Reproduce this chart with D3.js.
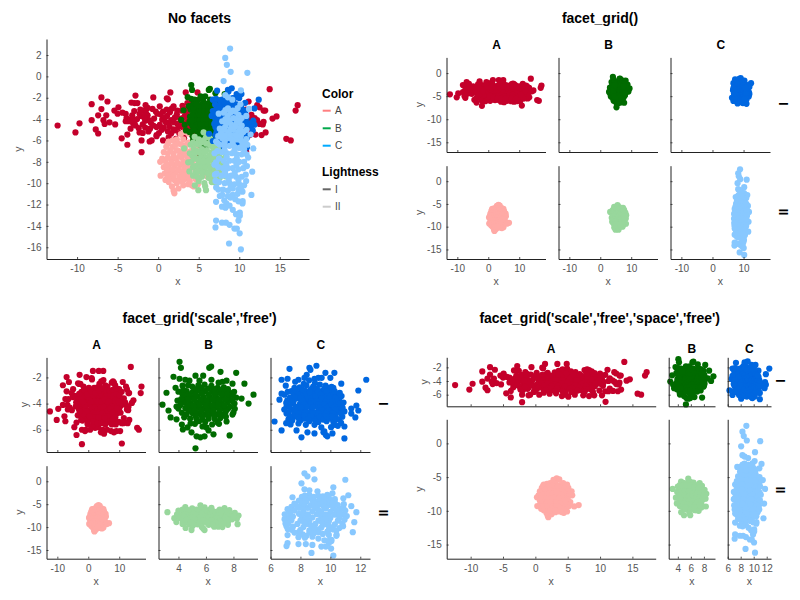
<!DOCTYPE html>
<html><head><meta charset="utf-8">
<script src="https://cdnjs.cloudflare.com/ajax/libs/d3/7.8.5/d3.min.js"></script>
<style>html,body{margin:0;padding:0;background:#fff}svg{display:block;font-family:"Liberation Sans",Arial,sans-serif}</style>
</head><body><svg id="c" width="800" height="600"></svg>
<script>
// data: [x, y]
const pointsAI = [
[-12.4,-4.6],[-10.2,-5.25],[-9.7,-4.4],[-8.2,-2.6],[-8.2,-4.1],[-7,-1.97],[-7,-3.06],[-6.25,-2.35],[-7.4,-3.65],[-6.4,-3.65],[-7.7,-4.97],[-7.4,-5.35],[-6.75,-4.1],[-6.6,-4.45],[-6,-4.3],[-5.3,-4.5],[-5.4,-3.2],[-4.9,-2.9],[-5,-3.5],[-4.5,-5.8],[-3.8,-5.45],[-3.8,-6.4],[-4.4,-3.4],[-4,-3.5],[-3.3,-2.45],[-2.8,-1.8],[-2.9,-2.5],[-2.55,-2.5],[-3.2,-3.65],[-4,-4.2],[-3.65,-4.2],[-3.4,-4.9],[-2.05,-7.1],[-2.05,-6],[-2.2,-3.1],[-1.55,-2.7],[-1.05,-6.1],[-0.8,-6],[-0.6,-1.97],[1.07,-2.05],[1.2,-2.15],[1.5,-1.5],[3.4,-1.5],[4.85,-1.5],[-0.2,-5.5],[-0.2,-5.6],
[13.75,-1.2],[17.2,-2.7],[16.95,-3.2],[14.6,-3.75],[14.1,-3.95],[13.2,-3.2],[13,-3.2],[13.25,-5.25],[12.75,-5.5],[15.8,-5.85],[16.35,-6],[12,-5.45],[10.85,-7.05],[11.15,-2.35],[12.5,-2.9],[12.2,-2.7],[12.2,-4.1],[13,-4.25],[12.5,-4.45],[12.9,-4.5],[11.3,-4],[10.8,-5.5],[11.5,-5.1],[10.3,-6.1],[9.1,-6.1],[8.3,-6.2],[7.4,-6.1],[6.1,-6],[5.1,-6.3],[4.1,-6.2],[3.2,-5.8],[2.2,-5.85],[1.3,-5.7],[0.6,-6],[4.7,-6],
[-1.8,-3.2],[-0.7,-3.05],[0.6,-3.3],[1.7,-3],[2.9,-3.2],[4.1,-2.9],[5.2,-3.25],[6.3,-3.1],[7.4,-3.3],[8.5,-3],[9.6,-3.3],[10.8,-3.1],[0.2,-2.8],[1.9,-2.8],[3,-2.75],[3.6,-2.5],[4.2,-2.3],[4.9,-2.2],[5.5,-2.6],[6.2,-2.7],[7.6,-2.4],[8,-2.3],[8.3,-2.4],[8.7,-2.6],[10,-2.9],
[-3.2,-3.9],[-1.3,-3.65],[-0.1,-3.5],[1.1,-3.7],[2.3,-3.55],[3.3,-3.7],[4.6,-3.6],[5.7,-3.75],[6.8,-3.55],[7.9,-3.7],[9,-3.6],[10.3,-3.75],[11.5,-3.6],
[-2.6,-4],[-1.6,-4.15],[-0.5,-3.95],[0.5,-4.05],[1.6,-4.1],[2.7,-3.95],[3.8,-4.1],[4.9,-4],[6,-4.15],[7.2,-3.95],[8.3,-4.1],[9.4,-4],[10.6,-4.15],[11.9,-3.9],
[-3.1,-4.4],[-1.9,-4.5],[-0.9,-4.35],[0.2,-4.55],[1.3,-4.4],[2.4,-4.45],[3.5,-4.35],[4.4,-4.55],[5.5,-4.4],[6.6,-4.5],[7.7,-4.35],[8.8,-4.5],[10,-4.4],
[-2.4,-4.85],[-1,-4.9],[0.7,-4.8],[1.9,-4.95],[3,-4.75],[4,-4.9],[5.1,-4.8],[6.2,-4.95],[7.3,-4.8],[8.2,-4.9],[9.2,-4.75],[-1.9,-5.3],
[-1.2,-5.15],[0.1,-5.3],[1.2,-5.15],[2.6,-5.3],[3.7,-5.2],[4.7,-5.35],[6,-5.2],[7.1,-5.3],[8.6,-5.25],[9.9,-5.4],[11.3,-5.5],[-2.3,-5.25],[-3.9,-3.9],[-2.1,-3.7],[-2.9,-4.2],[-3.5,-4.1],[-1.3,-2.95],
[0.3,-3.55],[1.45,-3.35],[2.05,-3.85],[3.55,-3.35],[4.35,-3.3],[5.6,-3.45],[6.05,-3.3],[7.05,-3.25],[8.05,-3.4],[9.05,-3.25],[10.15,-3.4],[0.85,-3.85],[2.85,-4.15],[3.15,-3.85],[4.2,-3.85],[5.35,-3.7],[6.5,-3.85],[7.65,-4.2],[8.75,-3.8],[9.85,-3.85],[0.95,-4.3],[1.95,-4.3],[3.05,-4.45],[4.05,-4.3],[5,-4.25],[6.15,-4.6],[7.15,-4.4],[8.25,-4.6],[9.35,-4.35],[10.45,-4.7],[1.4,-4.7],[2.5,-4.75],[3.5,-4.7],[4.55,-4.75],[5.6,-5],[6.75,-4.95],[7.85,-4.7],[8.75,-5.05],[-0.2,-4.75],[-0.6,-4.6],[-1.5,-3.45],[-2.3,-3.5],[-0.3,-3.3],[2.05,-5.05],[3.35,-5.05],[5.35,-5.1],[6.55,-5.4],[7.9,-5.2],[-2.95,-3.25],[-1.15,-4.1],[1.05,-3.1],[2.35,-3.2],[3.65,-3],[4.75,-2.85],[5.85,-3],[6.85,-3],[7.9,-2.95],[9.15,-2.85],[0.45,-5],[1.6,-5.35],[3.05,-5.5],[4.2,-5.5],[5.55,-5.6],[7.6,-5.6],[8.9,-5.6],[-1.6,-4.8],[-2.8,-4.6],[-1.7,-3.9]
];
const pointsBI = [
[4.08,-0.81],[4.18,-1.27],[6.38,-1.17],[6.24,-1.27],[7.06,-1.57],[8.2,-1.65],[3.64,-1.95],[4.08,-2.1],[5.24,-1.87],[5.8,-1.87],[8.8,-2.48],[9.46,-3.32],[9.1,-4],[3.13,-3.17],[2.84,-4.08],[3.28,-4.53],[3.43,-5.06],[3.86,-5.2],[3.93,-3.77],[3.86,-4.23],[4,-4.38],[4.25,-5.6],[4.32,-5.98],[4.66,-5.82],[4.95,-6.2],[5.32,-6.5],[5.6,-6.58],[5.9,-6.5],[6.55,-6.35],[7.72,-6.43],[5.24,-7.42],[6.19,-6.05],[5.75,-5.75],[6.04,-5.82],[8,-4.68],[7.93,-4.84],[7.5,-5.37],[8.08,-4],[8.59,-3.62],[8.2,-3.55],[7.93,-2.48],[7.5,-2.25],[7.2,-2.33],[6.92,-2.4],[6.4,-2.18],[5.53,-2.25],[4.8,-2.25],[4.5,-2.18],[4.3,-2.63],[3.79,-2.79],[4,-3.09],[4.88,-5.52],[6.84,-5.44],
[5,-2.7],[5.45,-2.6],[5.9,-2.55],[6.4,-2.65],[6.85,-2.8],[7.3,-2.75],[4.6,-3.05],[5.05,-3.1],[5.5,-3],[5.95,-3.05],[6.45,-3.1],[6.9,-3.15],[7.35,-3.1],[7.8,-3.2],[4.5,-3.5],[4.95,-3.5],[5.4,-3.45],[5.85,-3.5],[6.3,-3.55],[6.75,-3.5],[7.2,-3.5],[7.65,-3.55],[4.4,-3.9],[4.85,-3.95],[5.3,-3.9],[5.75,-3.9],[6.2,-3.95],[6.65,-3.9],[7.1,-3.95],[7.55,-3.9],[4.5,-4.35],[4.95,-4.35],[5.4,-4.3],[5.85,-4.35],[6.3,-4.35],[6.75,-4.3],[7.2,-4.35],[7.6,-4.4],[4.6,-4.8],[5.05,-4.75],[5.5,-4.75],[5.95,-4.8],[6.4,-4.75],[6.85,-4.8],[7.3,-4.8],[4.85,-5.15],[5.3,-5.15],[5.75,-5.2],[6.2,-5.15],[6.65,-5.2],[7.05,-5.1],[5.2,-5.55],[6.45,-5.6],
[5.2,-2.9],[5.7,-2.8],[6.15,-2.85],[6.6,-2.9],[7.1,-2.95],[4.75,-3.3],[5.25,-3.3],[5.7,-3.25],[6.2,-3.3],[6.65,-3.3],[7.15,-3.3],[7.55,-3.3],[4.7,-3.7],[5.15,-3.7],[5.6,-3.7],[6.05,-3.75],[6.5,-3.7],[6.95,-3.7],[7.4,-3.7],[4.65,-4.15],[5.1,-4.15],[5.55,-4.1],[6,-4.15],[6.45,-4.15],[6.9,-4.1],[7.35,-4.15],[4.75,-4.55],[5.2,-4.55],[5.65,-4.55],[6.1,-4.55],[6.55,-4.55],[7,-4.55],[7.45,-4.6],[5.25,-4.95],[5.7,-4.95],[6.15,-4.95],[6.6,-4.95],[7.1,-4.95],[5.5,-5.35],[5.95,-5.4],[4.3,-3.3],[4.25,-4.7],[7.9,-3.8],[7.75,-4.25],[4.35,-2.95],[4.2,-3.65],[4.15,-4.1],[4.42,-5.05],[7.95,-3.35],[8.05,-3.1],[7.6,-2.9],[7.45,-5],[6.95,-5.55],[4.7,-2.6],[8.1,-4.4]
];
const pointsCI = [
[9.07,-1.11],[8.6,-1.27],[8.67,-1.42],[7.27,-1.34],[9.67,-1.65],[10.27,-1.65],[10,-2.03],[12.4,-2.18],[6.74,-2.18],[7.14,-2.1],[10.73,-2.48],[11.87,-3],[6.6,-3.7],[6.74,-3.24],[6.94,-3.32],[11.74,-4.15],[11.4,-4.38],[11.87,-4.53],[11.4,-4.76],[11.67,-5.06],[10.94,-4.6],[6.27,-5.37],[6.74,-6.05],[7.34,-5.6],[7.74,-6.05],[8.07,-6.58],[8.47,-6.2],[8.94,-6.28],[9.54,-6.2],[9.8,-6.5],[10.14,-6.28],[9.7,-6.4],[10.94,-5.75],[10.94,-6.66],[9.4,-5.82],[9.6,-6.13],[7.07,-4.76],[7.07,-4.25],[7.2,-5.2],[7.87,-5.52],[8.36,-5.62],[8.94,-5.62],[8.42,-1.8],[8.27,-2.03],[7.87,-2.18],[7.65,-2.33],[8.94,-2.1],[9.2,-2.03],[9.42,-2.03],[7.02,-2.63],[7.6,-2.79],[9.87,-2.79],[10.2,-2.79],[10.53,-3.24],
[7.4,-3.05],[7.95,-2.75],[8.4,-2.6],[8.85,-2.7],[9.3,-2.55],[8,-3.15],[8.45,-3.1],[8.9,-3.15],[9.4,-3.05],[9.85,-3.2],[10.3,-3.3],[7.3,-3.55],[7.8,-3.6],[8.25,-3.55],[8.7,-3.6],[9.2,-3.55],[9.65,-3.6],[10.1,-3.65],[10.6,-3.7],[7.5,-4],[7.95,-4.05],[8.45,-4],[8.9,-4],[9.35,-4.05],[9.85,-4],[10.3,-4.05],[10.75,-4.1],[7.4,-4.45],[7.85,-4.5],[8.3,-4.45],[8.75,-4.5],[9.2,-4.45],[9.7,-4.5],[10.15,-4.45],[10.6,-4.5],[7.6,-4.95],[8.05,-4.9],[8.55,-4.95],[9,-4.9],[9.45,-5],[9.9,-4.9],[10.35,-4.95],[10.8,-5],[8,-5.3],[8.6,-5.35],[9.2,-5.4],[9.75,-5.35],[10.2,-5.4],[10.5,-5.7],[10.05,-5.8],
[8.15,-2.95],[8.7,-2.9],[9.1,-2.85],[9.6,-2.85],[10.05,-3],[7.55,-3.3],[8.2,-3.35],[8.65,-3.35],[9.15,-3.3],[9.6,-3.35],[10.1,-3.4],[10.45,-3.5],[7.55,-3.8],[8.05,-3.8],[8.5,-3.8],[8.95,-3.8],[9.45,-3.8],[9.9,-3.8],[10.4,-3.85],[7.25,-4.2],[7.7,-4.25],[8.2,-4.25],[8.65,-4.25],[9.15,-4.25],[9.6,-4.25],[10.05,-4.25],[10.55,-4.3],[7.6,-4.7],[8.1,-4.7],[8.55,-4.7],[9,-4.7],[9.5,-4.7],[9.95,-4.7],[10.4,-4.7],[7.85,-5.1],[8.3,-5.15],[8.8,-5.15],[9.25,-5.15],[9.7,-5.15],[10.15,-5.2],[10.6,-5.2],
[7.12,-3.75],[7.15,-3.1],[7.22,-4.65],[7.3,-4.95],[7.45,-5.3],[7.65,-2.98],[7.83,-3.32],[7.62,-3.55],[7.42,-3.83],[7.72,-4.55],[7.9,-4.72],[7.83,-5.03],[8.22,-2.5],[8.58,-2.22],[8.32,-3.03],[8.42,-3.32],[8.62,-3.12],[8.03,-3.58],[8.47,-3.58],[8.15,-3.8],[8.72,-3.82],[8.27,-4.07],[8.67,-4.02],[8.45,-4.25],[8.02,-4.28],[8.83,-4.28],[8.32,-4.68],[8.78,-4.72],[8.28,-4.92],[8.72,-4.95],[8.52,-5.18],[9.02,-5.32],[8.97,-2.43],[9.02,-3.42],[9.18,-3.08],[9.37,-3.33],[9.42,-3.58],[9.08,-3.83],[9.18,-4.03],[9.32,-4.28],[9.42,-4.52],[9.22,-4.72],[9.28,-5.02],[9.52,-5.22],[9.68,-2.62],[9.72,-3.08],[9.82,-3.42],[9.88,-3.62],[9.68,-3.82],[9.62,-4.03],[9.83,-4.25],[9.88,-4.52],[9.73,-4.73],[9.72,-4.98],[9.93,-5.13],[10.08,-2.73],[10.28,-3.05],[10.32,-3.57],[10.13,-3.83],[10.08,-4.05],[10.28,-4.25],[10.33,-4.48],[10.18,-4.72],[10.13,-5],[10.42,-5.18],[10.65,-4.02],[10.72,-4.75],[10.82,-4.32],[10.88,-3.92],[10.75,-3.42],[10.63,-3.18],[10.72,-5.48],[10.32,-5.62],[7.05,-5.5],[7.05,-3.95],[6.92,-4.45]
];
const pointsAII = [
[6,-9.35],[6.7,-9.15],[0.3,-9.3],[0.25,-8],[2,-10.95],[3.3,-5.2],[4.4,-10.3],[1.9,-10.7],[1.7,-10.3],[1.3,-9.9],[0.9,-9.7],[2.5,-10.5],[3.1,-10.2],[3.7,-10.1],[4.15,-10.2],[4.9,-10.1],[4.6,-9.6],[5.2,-9.3],[5.4,-8.7],[5.7,-7.7],[5.6,-7.1],[5.1,-6.6],[4.9,-6.1],[4.3,-5.9],[3.7,-5.35],[2.8,-5.4],[2.3,-5.9],[1.8,-6],[1.3,-6.1],[1,-6.6],[0.7,-7.1],[0.5,-7.7],[1.2,-6.3],
[1.8,-6.6],[2.5,-6.3],[3.1,-5.9],[3.8,-6.2],[4.4,-6.6],[5,-7.1],[1.2,-7.2],[1.9,-7.2],[2.6,-7],[3.3,-6.7],[4,-7],[4.6,-7.4],[5.2,-7.8],[0.9,-7.9],[1.6,-7.8],[2.2,-7.7],[2.9,-7.6],[3.6,-7.6],[4.3,-7.9],[4.9,-8.3],[0.7,-8.5],[1.3,-8.4],[2,-8.4],[2.7,-8.3],[3.3,-8.3],[3.9,-8.5],[4.6,-8.8],[0.8,-9.1],[1.5,-9.1],[2.2,-9],[2.9,-9],[3.5,-9],[4.1,-9.3],[1.4,-9.6],[2,-9.7],[2.7,-9.7],[3.3,-9.6],[3.9,-9.8],
[2.1,-6.4],[2.9,-6.4],[3.5,-6.4],[1.5,-6.9],[2.3,-6.9],[3,-7.1],[3.7,-7.1],[4.3,-7.3],[1.2,-7.6],[1.9,-7.5],[2.6,-7.5],[3.3,-7.3],[4,-7.6],[1,-8.2],[1.7,-8.1],[2.4,-8.1],[3.1,-8],[3.7,-8.1],[4.5,-8.4],[1.1,-8.8],[1.8,-8.7],[2.5,-8.7],[3.2,-8.7],[3.8,-8.9],[1.2,-9.3],[1.9,-9.3],[2.6,-9.4],[3.2,-9.3],[3.7,-9.4],[2.3,-10],[3,-9.9]
];
const pointsBII = [
[3.2,-6.75],[4.5,-5.66],[5.6,-5.23],[7.35,-5.88],[4.95,-10.66],[4.52,-10.2],[5.9,-10.66],[5.8,-10.3],[5.7,-10],[8.37,-7.47],[8.3,-9.36],[4,-6.4],[3.7,-8.05],[3.85,-8.9],[3.9,-7.2],[8.25,-8.2],[8.1,-6.9],[7.7,-6.3],[7,-6.2],[6.4,-5.8],[5.9,-5.7],[5,-5.9],[4.3,-6.2],[6.9,-9.9],[7.6,-9.5],[7.2,-10],[6.6,-9.9],[5,-9.8],[4.3,-9.3],
[4.4,-6.8],[5,-6.4],[5.6,-6],[6.2,-6.3],[6.8,-6.6],[7.4,-6.5],[4.2,-7.4],[4.8,-7],[5.4,-6.8],[6,-6.9],[6.6,-7.1],[7.2,-7.2],[7.8,-7],[4.1,-8],[4.7,-7.7],[5.3,-7.5],[5.9,-7.6],[6.5,-7.8],[7.1,-7.8],[7.7,-7.7],[4.3,-8.5],[4.9,-8.3],[5.5,-8.2],[6.1,-8.3],[6.7,-8.4],[7.3,-8.4],[7.9,-8.3],[4.6,-9],[5.2,-8.8],[5.8,-8.9],[6.4,-9],[7,-9],[7.6,-8.9],[4.8,-9.4],[5.4,-9.4],[6.2,-9.5],[6.8,-9.5],
[4.7,-6.3],[5.3,-6.2],[5.9,-6.3],[6.5,-6.5],[7.1,-6.7],[4.5,-7.2],[5.1,-7.1],[5.7,-7.1],[6.3,-7.4],[6.9,-7.5],[7.5,-7.4],[4.4,-7.7],[5,-7.9],[5.6,-7.9],[6.2,-7.9],[6.8,-8.1],[7.4,-8],[8,-7.7],[4.6,-8.4],[5.2,-8.5],[5.8,-8.5],[6.4,-8.6],[7,-8.7],[7.6,-8.5],[4.9,-8.9],[5.5,-9],[6.1,-9.1],[6.7,-9.1],[7.3,-9.2],[5.1,-9.5],[6.5,-9.5]
];
const pointsCII = [
[8.87,2.6],[8.27,1.73],[8.47,1.08],[8.94,0.43],[11,0.33],[8.07,-0.44],[10.2,-1.31],[8.27,-1.75],[8.6,-1.96],[9.14,-2.18],[10.14,-2.62],[9.8,-2.98],[11.2,-3.05],[10.87,-3.7],[7.47,-3.49],[11.4,-5.44],[11.74,-6.75],[11.6,-8.92],[11.5,-11.1],[10.87,-5.88],[7.14,-6.1],[7.34,-6.24],[6.94,-8.27],[7.14,-8.05],[7.07,-9.79],[7.14,-11.75],[7.14,-13.5],[7.07,-14.14],[7.87,-12.2],[7.87,-13.7],[8.36,-13.7],[8.8,-13.9],[8.74,-15.65],[9.4,-14.25],[9.7,-14.25],[10.05,-14.7],[10.2,-16.2],[10.07,-13.05],[9.9,-13.5],[10.6,-10.2],[10.42,-11.67],[10.07,-12.76],[7.42,-10.6],[8.15,-11.6],[8.4,-11.9],[8.8,-12.1],[9.2,-12.5],[9.6,-12.9],[9.9,-13],[8.3,-12.3],[10.4,-11.9],[7.9,-11.1],[8.6,-11.2],[9.2,-11.1],[9.8,-11],[7.6,-11.2],
[8.6,-3],[9.2,-3.2],[8.1,-3.4],[8.6,-3.7],[9.3,-3.9],[9.9,-3.6],[10.3,-3.9],[7.9,-4.2],[8.4,-4.4],[9,-4.5],[9.7,-4.4],[10.3,-4.6],[7.6,-4.9],[8.1,-5],[8.7,-5.2],[9.3,-5],[9.9,-5.2],[10.5,-5.2],[7.4,-5.6],[7.9,-5.8],[8.5,-5.8],[9.1,-5.9],[9.7,-5.9],[10.2,-6],[10.7,-6.1],[7.6,-6.4],[8.2,-6.5],[8.8,-6.5],[9.4,-6.6],[10,-6.7],[10.6,-6.8],[7.3,-7],[7.9,-7.1],[8.5,-7.2],[9.1,-7.2],[9.7,-7.3],[10.3,-7.3],[10.9,-7.3],[7.5,-7.7],[8.1,-7.9],[8.8,-7.9],[9.4,-7.9],[10,-8],[10.6,-8],[7.4,-8.5],[8,-8.6],[8.6,-8.6],[9.2,-8.6],[9.9,-8.7],[10.5,-8.6],[7.2,-9.1],[7.8,-9.3],[8.4,-9.3],[9,-9.3],[9.6,-9.4],[10.3,-9.4],[10.8,-9.2],[7.5,-9.9],[8.2,-10],[8.8,-10],[9.4,-10.1],[10,-10.1],[8,-10.6],[8.6,-10.7],[9.2,-10.5],[9.9,-10.6],[10.4,-10.8],
[8.3,-3.15],[8.9,-3.4],[9.5,-3.3],[8.3,-4],[8.8,-4.1],[9.6,-4],[10.05,-4.15],[8.25,-4.75],[8.95,-4.9],[9.55,-4.7],[10.15,-4.85],[7.75,-5.35],[8.3,-5.5],[8.95,-5.5],[9.55,-5.5],[10.2,-5.55],[8.2,-6.15],[9.2,-6.3],[10.4,-6.4],[8.2,-6.9],[9.4,-6.95],[10.6,-7.1],[8.45,-7.55],[9.7,-7.65],[8.4,-8.25],[9.65,-8.3],[8.25,-8.95],[9.45,-9],[8.7,-9.65],[9.9,-9.75],[8.95,-10.4],[10.2,-10.5],[8.9,-11.35],[9.5,-11.5],[9.9,-11.7],[11,-6.4],[11.1,-7.6],[10.95,-8.4],[10.85,-9.8],[6.95,-7.2],[7,-9.2],[7.15,-10.4],[10.9,-5]
];
const colorA1="#c4002b", colorA2="#ffaaa6", colorB1="#006b00", colorB2="#98d79c", colorC1="#0067e0", colorC2="#88c8ff";
const colorKeys=[["A","#ff7f80"],["B","#00a84a"],["C","#00aaff"]];
const lightKeys=[["I","#666666"],["II","#cccccc"]];
const xAll=[-10,-5,0,5,10,15], xWide=[-10,0,10];
const yNo=[2,0,-2,-4,-6,-8,-10,-12,-14,-16], yGrid=[0,-5,-10,-15], yTop=[-2,-4,-6];

const svg=d3.select("#c");
const TICK="#555", INK="#222";
function text(x,y,s,o={}){
  const t=svg.append("text").attr("x",x).attr("y",y).text(s)
    .attr("font-size",o.size||10).attr("fill",o.fill||"#000")
    .attr("text-anchor",o.anchor||"middle").attr("font-weight",o.bold?"bold":"normal");
  if(o.rot!=null){t.attr("transform",`rotate(${o.rot},${x},${y})`).attr("dominant-baseline","central");}
  return t;
}
function panel(p){
  const g=svg.append("g");
  const x=d3.scaleLinear().domain(p.xd).range(p.xr);
  const y=d3.scaleLinear().domain(p.yd).range(p.yr);
  p.series.forEach(([pts,col])=>{
    g.append("g").selectAll("circle").data(pts).join("circle")
      .attr("cx",d=>x(d[0])).attr("cy",d=>y(d[1])).attr("r",3.1).attr("fill",col);
  });
  const ax=d3.axisBottom(x).tickValues(p.xt).tickSizeInner(-2).tickSizeOuter(0).tickPadding(6)
     .tickFormat(p.xl?String:"");
  const ay=d3.axisLeft(y).tickValues(p.yt).tickSizeInner(-2).tickSizeOuter(0).tickPadding(5)
     .tickFormat(p.yl?String:"");
  for(const [a,tr] of [[ax,`translate(0,${p.yr[0]})`],[ay,`translate(${p.xr[0]},0)`]]){
    const s=g.append("g").attr("transform",tr).call(a);
    s.selectAll("path").attr("stroke",INK).attr("stroke-width",1);
    s.selectAll("line").attr("stroke",INK).attr("stroke-width",0.8);
    s.selectAll("text").attr("fill",TICK).attr("font-size",10);
    s.attr("font-family",null).attr("font-size",null);
  }
  if(p.xl) text((p.xr[0]+p.xr[1])/2,p.xlY,"x",{size:10.5,fill:TICK});
  if(p.yl) text(p.ylX,(p.yr[0]+p.yr[1])/2,"y",{size:10.5,fill:TICK,rot:-90});
}
const sAI=[pointsAI,colorA1],sAII=[pointsAII,colorA2],sBI=[pointsBI,colorB1],sBII=[pointsBII,colorB2],sCI=[pointsCI,colorC1],sCII=[pointsCII,colorC2];

// No facets
panel({xd:[-13.77,18.6],xr:[46.5,309],yd:[-17.1,3.5],yr:[259,39],xt:xAll,yt:yNo,xl:true,yl:true,xlY:285,ylX:18,
  series:[sAI,sAII,sBI,sBII,sCI,sCII]});
text(199.5,23,"No facets",{size:14,bold:true});
text(322,98,"Color",{size:12,bold:true,anchor:"start"});
text(322,176,"Lightness",{size:12,bold:true,anchor:"start"});
[[colorKeys,[110.7,128.3,145.7]],[lightKeys,[189.3,206.7]]].forEach(([keys,ys])=>{
  keys.forEach((k,i)=>{
    svg.append("line").attr("x1",322.7).attr("x2",330.7).attr("y1",ys[i]).attr("y2",ys[i]).attr("stroke",k[1]).attr("stroke-width",2);
    text(335,ys[i]+3.5,k[0],{size:10,fill:"#444",anchor:"start"});
  });
});

// shared column / row layout for the two grid panels
const cols=[[46.5,145.5],[158.5,257.5],[270.5,370]];
const names=["A","B","C"];
const offset=(r,d)=>[r[0]+d,r[1]+d];

// facet_grid()
const d1=[sAI,sBI,sCI], d2=[sAII,sBII,sCII];
[0,1,2].forEach(c=>{
  const xr=offset(cols[c],400);
  panel({xd:[-13.5,18.5],xr,yd:[-17.1,3.4],yr:[152,57.4],xt:xWide,yt:yGrid,xl:false,yl:c==0,ylX:419,series:[d1[c]]});
  panel({xd:[-13.5,18.5],xr,yd:[-17.1,3.4],yr:[259,165.7],xt:xWide,yt:yGrid,xl:true,yl:c==0,ylX:419,xlY:285,series:[d2[c]]});
  text((xr[0]+xr[1])/2+0.5,49,names[c],{size:12,bold:true});
});
text(600,23,"facet_grid()",{size:14,bold:true});
text(783,104,"I",{size:12,bold:true,rot:90});
text(783,212,"II",{size:12,bold:true,rot:90});

// facet_grid('scale','free')
const xdFree=[[-13.5,18.5],[2.55,9.75],[6,12.65]];
const xtFree=[xWide,[4,6,8],[6,8,10,12]];
[0,1,2].forEach(c=>{
  panel({xd:xdFree[c],xr:cols[c],yd:[-7.7,-0.47],yr:[452,357.4],xt:xtFree[c],yt:yTop,xl:false,yl:c==0,ylX:24,series:[d1[c]]});
  panel({xd:xdFree[c],xr:cols[c],yd:[-16.9,3.4],yr:[558.7,465.7],xt:xtFree[c],yt:yGrid,xl:true,yl:c==0,ylX:19,xlY:585,series:[d2[c]]});
  text((cols[c][0]+cols[c][1])/2+0.5,349,names[c],{size:12,bold:true});
});
text(199.7,323,"facet_grid('scale','free')",{size:14,bold:true});
text(383,404,"I",{size:12,bold:true,rot:90});
text(383,513,"II",{size:12,bold:true,rot:90});

// facet_grid('scale','free','space','free')
const cols4=[[446.7,655.7],[668.7,715],[727.7,771]];
const xd4=[[-13.7,18.6],[2.6,9.7],[6,12.66]];
const xt4=[xAll,[4,6,8],[6,8,10,12]];
[0,1,2].forEach(c=>{
  panel({xd:xd4[c],xr:cols4[c],yd:[-7.7,-0.53],yr:[406.3,357.3],xt:xt4[c],yt:yTop,xl:false,yl:c==0,ylX:424,series:[d1[c]]});
  panel({xd:xd4[c],xr:cols4[c],yd:[-17.1,3.57],yr:[558.7,419.3],xt:xt4[c],yt:yGrid,xl:true,yl:c==0,ylX:419,xlY:585,series:[d2[c]]});
  text((cols4[c][0]+cols4[c][1])/2,353,names[c],{size:12,bold:true});
});
text(599.7,323,"facet_grid('scale','free','space','free')",{size:14,bold:true});
text(780,381,"I",{size:12,bold:true,rot:90});
text(780,490,"II",{size:12,bold:true,rot:90});
</script></body></html>
